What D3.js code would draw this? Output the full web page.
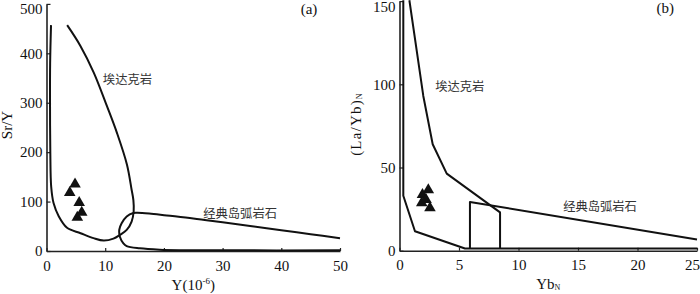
<!DOCTYPE html>
<html><head><meta charset="utf-8">
<script src="https://cdn.jsdelivr.net/npm/d3@7"></script>
<style>body{margin:0;background:#fff}svg{display:block}
.ax text{font-family:'Liberation Serif','Times New Roman',serif !important;font-size:15px;fill:#111}</style>
</head><body>
<svg id="c" width="700" height="294"></svg>
<script>
// ---------- data ----------
const aXTicks = [0, 10, 20, 30, 40, 50];
const aYTicks = [0, 100, 200, 300, 400, 500];
const bXTicks = [0, 5, 10, 15, 20, 25];
const bYTicks = [0, 50, 100, 150];

const fieldNames = ["埃达克岩", "经典岛弧岩石"];
const panelTags = ["(a)", "(b)"];

// panel (a): Y (ppm) vs Sr/Y
const aAdakiteField = [[0.77,457],[0.62,380],[0.6,300],[0.65,200],[0.8,130],[1.2,97],[2.1,70],[3.5,47],[5.8,36],[8,26],[9.75,21],[11.4,25],[12.5,32.5],[13.66,42.7],[14.5,59.6],[14.85,80],[14.8,103],[14.5,124],[13.7,175],[12,239],[10.3,293],[8.05,361],[5.78,415],[3.52,457]];
const aArcField = [[50,26],[45,34],[40,42],[35,50],[30,58],[25,66],[20.5,72],[17.5,76],[15.5,77.5],[14.8,77],[13.66,70],[12.8,56],[12.4,43],[12.5,29],[13.1,15.6],[13.66,10],[15.9,5.4],[19.3,2.6],[23,1.6],[30,1.3],[50,1.3]];
const aSampleY   = [4.86, 3.96, 5.57, 6.0, 5.25];
const aSampleSrY = [135, 118, 98, 78, 68];

// panel (b): YbN vs (La/Yb)N
const bAdakiteLower = [[0.32,150.5],[0.32,33],[1.3,11.7],[5.5,1.3],[25,1.3]];
const bAdakiteUpper = [[0.83,150.5],[2.0,93],[2.79,64],[3.97,46.3],[8.45,23],[8.45,1.3]];
const bArcField = [[5.92,1.3],[5.92,29.3],[25,6.7]];
const bSampleYb   = [2.42, 1.93, 1.87, 2.56, 2.23];
const bSampleLaYb = [36.5, 33.7, 28.7, 25.7, 30.7];

// ---------- drawing ----------
const svg = d3.select("#c");
const serif = "Liberation Serif, Times New Roman, serif";
const cjk = "Noto Sans CJK SC, sans-serif";

function axes(g, x, y, xt, yt, minLabelY) {
  const gx = g.append("g").attr("class", "ax").attr("transform", `translate(0,${y.range()[0]})`)
    .call(d3.axisBottom(x).tickValues(xt).tickSizeInner(-3).tickSizeOuter(0).tickPadding(9));
  const gy = g.append("g").attr("class", "ax").attr("transform", `translate(${x.range()[0]},0)`)
    .call(d3.axisLeft(y).tickValues(yt).tickSizeInner(-4).tickSizeOuter(0).tickPadding(4));
  [gx, gy].forEach(a => {
    a.attr("font-family", serif).attr("font-size", 15);
    a.select(".domain").attr("stroke", "#222").attr("stroke-width", 1.6);
    a.selectAll(".tick line").attr("stroke", "#222").attr("stroke-width", 1.2);
    a.selectAll("text").attr("font-family", serif).attr("font-size", 15).attr("fill", "#111");
  });
  gy.selectAll(".tick text").attr("dy", "0.32em");
  gy.selectAll(".tick").each(function(d) {
    const yy = y(d);
    if (yy < minLabelY) d3.select(this).select("text").attr("y", minLabelY - yy);
  });
  gx.selectAll(".tick").filter(d => d === xt[xt.length - 1] && x(d) > 690)
    .select("text").attr("x", -5);
}

function drawPath(g, pts, x, y, curve) {
  g.append("path").attr("d", d3.line().x(d => x(d[0])).y(d => y(d[1])).curve(curve)(pts))
    .attr("fill", "none").attr("stroke", "#111").attr("stroke-width", 2)
    .attr("stroke-linejoin", "round");
}
function drawTri(g, xs, ys, x, y) {
  g.selectAll(null).data(xs.map((v, i) => [v, ys[i]])).join("path")
    .attr("transform", d => `translate(${x(d[0])},${y(d[1])})`)
    .attr("d", d3.symbol(d3.symbolTriangle, 58)).attr("fill", "#111");
}
function cjkText(g, t, px, py) {
  g.append("text").attr("x", px).attr("y", py).text(t)
    .attr("font-family", cjk).attr("font-size", 12.3).attr("fill", "#333");
}
function serifText(g) {
  return g.append("text").style("font-family", serif).attr("font-size", 15).attr("fill", "#111");
}

// panel a
const ax = d3.scaleLinear().domain([0, 50]).range([46.5, 340]);
const ay = d3.scaleLinear().domain([0, 500]).range([251, 3.9]);
const ga = svg.append("g");
axes(ga, ax, ay, aXTicks, aYTicks, 9);
drawPath(ga, aAdakiteField, ax, ay, d3.curveCatmullRom.alpha(0.5));
drawPath(ga, aArcField, ax, ay, d3.curveCatmullRom.alpha(0.5));
drawTri(ga, aSampleY, aSampleSrY, ax, ay);
cjkText(ga, fieldNames[0], ax(9.6), ay(338));
cjkText(ga, fieldNames[1], ax(26.7), ay(67));
serifText(ga).attr("x", ax(43.3)).attr("y", ay(480)).text(panelTags[0]);
serifText(ga).attr("text-anchor", "middle").attr("x", (ax.range()[0] + ax.range()[1]) / 2).attr("y", 290)
  .call(t => { t.append("tspan").text("Y(10");
               t.append("tspan").text("-6").attr("font-size", 9).attr("dy", -6);
               t.append("tspan").text(")").attr("dy", 6); });
serifText(ga).attr("transform", "translate(12,125) rotate(-90)").attr("text-anchor", "middle").text("Sr/Y");

// panel b
const bx = d3.scaleLinear().domain([0, 25]).range([399.5, 697]);
const by = d3.scaleLinear().domain([0, 150]).range([250.7, 1.1]);
const gb = svg.append("g");
axes(gb, bx, by, bXTicks, bYTicks, 7);
drawPath(gb, bAdakiteLower, bx, by, d3.curveLinear);
drawPath(gb, bAdakiteUpper, bx, by, d3.curveLinear);
drawPath(gb, bArcField, bx, by, d3.curveLinear);
drawTri(gb, bSampleYb, bSampleLaYb, bx, by);
cjkText(gb, fieldNames[0], bx(3.0), by(96));
cjkText(gb, fieldNames[1], bx(13.75), by(24));
serifText(gb).attr("x", bx(21.6)).attr("y", by(143)).text(panelTags[1]);
serifText(gb).attr("text-anchor", "middle").attr("x", (bx.range()[0] + bx.range()[1]) / 2).attr("y", 289)
  .call(t => { t.append("tspan").text("Yb");
               t.append("tspan").text("N").attr("font-size", 8).attr("dy", 1); });
serifText(gb).attr("transform", "translate(361,124) rotate(-90)").attr("text-anchor", "middle")
  .attr("letter-spacing", 1.2)
  .call(t => { t.append("tspan").text("(La/Yb)");
               t.append("tspan").text("N").attr("font-size", 8).attr("dy", 1); });
</script>
</body></html>
